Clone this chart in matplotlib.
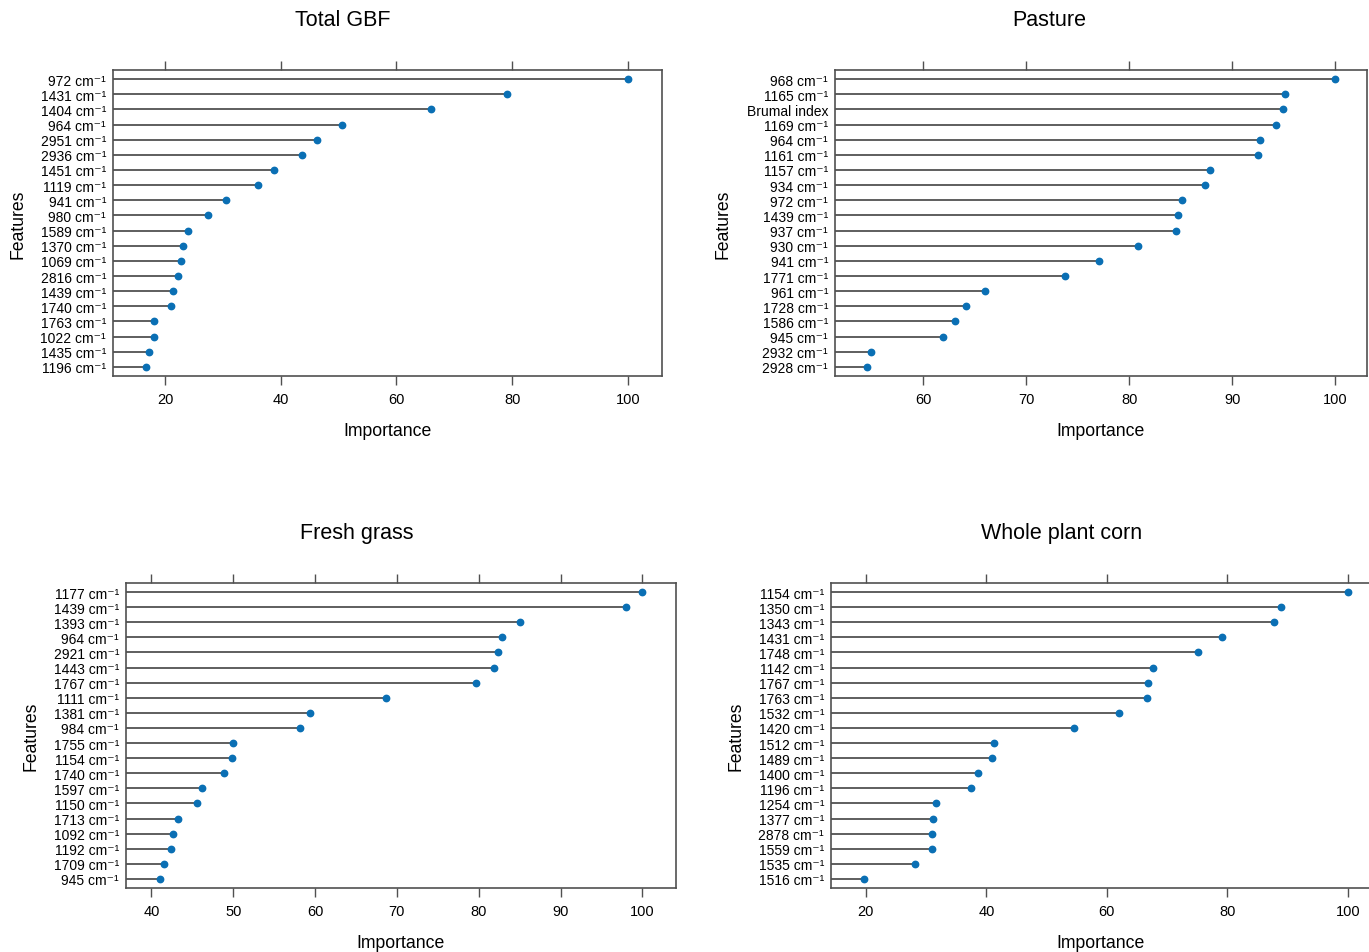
import numpy as np
import matplotlib
matplotlib.use('Agg')
import matplotlib.pyplot as plt

plt.rcParams['font.family'] = ['Liberation Sans', 'DejaVu Sans']

# ============================================================
# 数据 (自上而下排列)
# ============================================================
gbf_labels = ['972', '1431', '1404', '964', '2951', '2936', '1451', '1119', '941', '980',
              '1589', '1370', '1069', '2816', '1439', '1740', '1763', '1022', '1435', '1196']
gbf_values = [100, 79.1, 66.0, 50.5, 46.2, 43.7, 38.9, 36.0, 30.6, 27.4,
              24.0, 23.1, 22.7, 22.2, 21.3, 21.0, 18.1, 18.1, 17.2, 16.7]

pasture_labels = ['968', '1165', 'Brumal index', '1169', '964', '1161', '1157', '934', '972', '1439',
                  '937', '930', '941', '1771', '961', '1728', '1586', '945', '2932', '2928']
pasture_values = [100, 95.1, 94.9, 94.3, 92.7, 92.5, 87.8, 87.4, 85.1, 84.7,
                  84.5, 80.8, 77.1, 73.8, 66.0, 64.1, 63.1, 61.9, 54.9, 54.5]

grass_labels = ['1177', '1439', '1393', '964', '2921', '1443', '1767', '1111', '1381', '984',
                '1755', '1154', '1740', '1597', '1150', '1713', '1092', '1192', '1709', '945']
grass_values = [100, 98.0, 85.0, 82.8, 82.4, 81.9, 79.7, 68.7, 59.4, 58.1,
                50.0, 49.9, 48.9, 46.2, 45.6, 43.3, 42.7, 42.4, 41.6, 41.0]

corn_labels = ['1154', '1350', '1343', '1431', '1748', '1142', '1767', '1763', '1532', '1420',
               '1512', '1489', '1400', '1196', '1254', '1377', '2878', '1559', '1535', '1516']
corn_values = [100, 88.9, 87.8, 79.2, 75.2, 67.7, 66.8, 66.7, 62.1, 54.5,
               41.3, 40.9, 38.6, 37.5, 31.6, 31.1, 30.9, 30.9, 28.1, 19.7]

W, H = 1369, 953
fig = plt.figure(figsize=(W / 100, H / 100), dpi=100)

# (标题, 标签, 数值, 轴框像素[l, r, t, b], x范围, 刻度, 标题x, Features x)
panels = [
    ('Total GBF', gbf_labels, gbf_values, [113, 662, 71, 377], (11.0, 105.9),
     [20, 40, 60, 80, 100], 343, 18),
    ('Pasture', pasture_labels, pasture_values, [835, 1367, 71, 377], (51.4, 103.1),
     [60, 70, 80, 90, 100], 1049, 723),
    ('Fresh grass', grass_labels, grass_values, [126, 676, 584, 889], (36.9, 104.1),
     [40, 50, 60, 70, 80, 90, 100], 357, 31),
    ('Whole plant corn', corn_labels, corn_values, [831, 1370, 584, 889], (14.2, 103.7),
     [20, 40, 60, 80, 100], 1062, 736),
]

box_col = '#505050'
dot_col = '#0a6fb4'

for title, labels, values, (l, r, t, b), xlim, ticks, tx, fx in panels:
    ax = fig.add_axes([l / W, 1 - b / H, (r - l) / W, (b - t) / H])
    n = len(values)
    ypos = np.arange(n, 0, -1)
    names = [s if not s[0].isdigit() else s + ' cm\u207b\u00b9' for s in labels]

    ax.hlines(ypos, xlim[0], values, color='#333333', lw=1.1, zorder=2)
    ax.plot(values, ypos, 'o', color=dot_col, ms=4.6, zorder=3)

    ax.set_xlim(*xlim)
    ax.set_ylim(0.4, n + 0.6)
    ax.set_yticks(ypos)
    ax.set_yticklabels(names, fontsize=10)
    ax.set_xticks(ticks)
    ax.set_xticklabels([str(v) for v in ticks], fontsize=10.5)
    ax.tick_params(axis='y', length=0, pad=5)
    ax.tick_params(axis='x', top=True, bottom=True, direction='out', length=6.5,
                   width=1.0, color=box_col, pad=5)
    for sp in ax.spines.values():
        sp.set_color(box_col)
        sp.set_linewidth(1.2)

    cx = (l + r) / 2
    fig.text(tx / W, 1 - 20 / H if t < 300 else 1 - 533 / H, title,
             ha='center', va='center', fontsize=15.5)
    fig.text(cx / W, 1 - (b + 55) / H, 'Importance', ha='center', va='center', fontsize=12.7)
    fig.text(fx / W, 1 - ((t + b) / 2) / H, 'Features', ha='center', va='center',
             rotation=90, fontsize=12.7)

plt.savefig('out.png', dpi=100)
plt.close()
